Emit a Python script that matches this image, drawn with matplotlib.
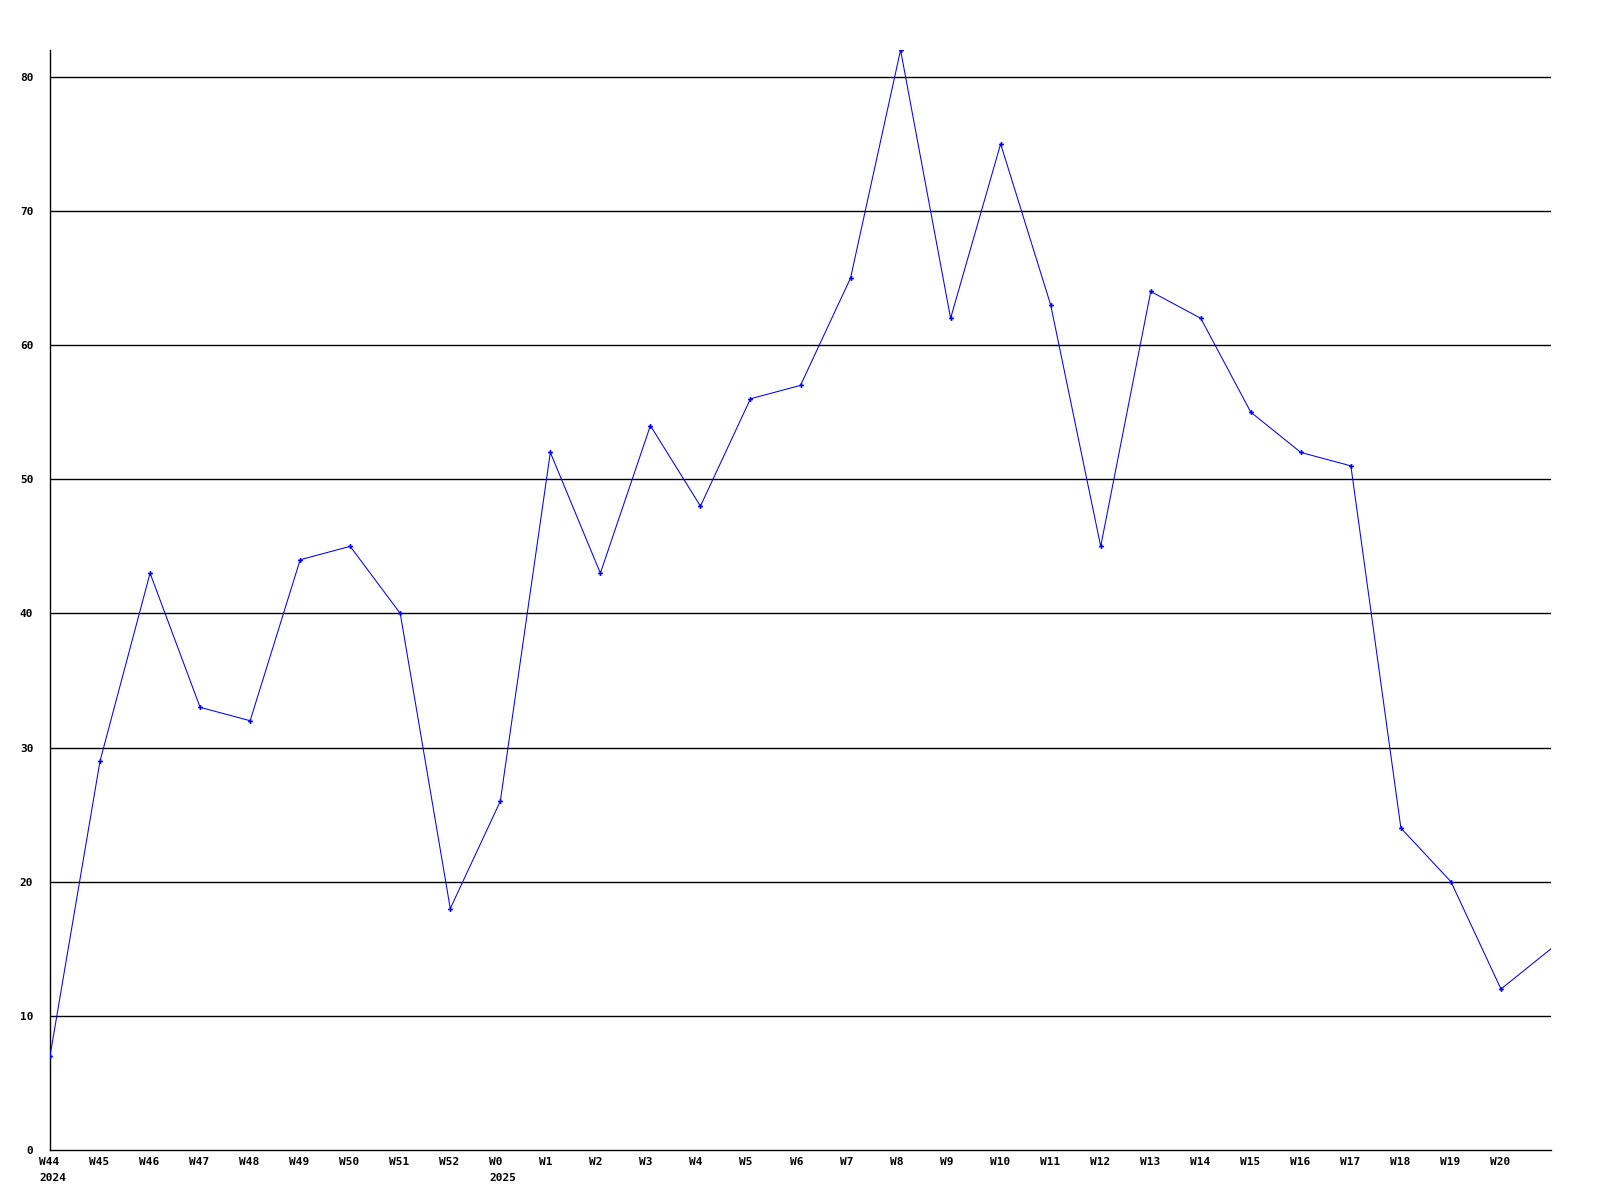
# Courbe hebdomadaire W44 2024 -> W20 2025
import matplotlib
matplotlib.use("Agg")
import matplotlib.pyplot as plt

# semaines (libelles de l'axe x)
weeks = ["W44", "W45", "W46", "W47", "W48", "W49", "W50", "W51", "W52",
         "W0", "W1", "W2", "W3", "W4", "W5", "W6", "W7", "W8", "W9", "W10",
         "W11", "W12", "W13", "W14", "W15", "W16", "W17", "W18", "W19", "W20"]

# annees sous la premiere semaine de chaque annee
years = ["2024", "2025"]
year_pos = [0, 9]

# valeurs (le dernier point sort du cadre a droite)
values = [7, 29, 43, 33, 32, 44, 45, 40, 18, 26, 52, 43, 54, 48, 56, 57, 65,
          82, 62, 75, 63, 45, 64, 62, 55, 52, 51, 24, 20, 12, 15]

yticks = [0, 10, 20, 30, 40, 50, 60, 70, 80]

font = {"family": "DejaVu Sans Mono", "weight": "bold", "size": 8}

fig = plt.figure(figsize=(16, 12), dpi=100)
ax = fig.add_axes([50 / 1600, 50 / 1200, 1501 / 1600, 1100 / 1200])

# lignes horizontales de la grille
for v in yticks[1:]:
    ax.axhline(v, color="black", linewidth=1.0, zorder=1)

x = list(range(len(values)))
ax.plot(x, values, color="#0000ff", linewidth=0.75, zorder=3)
# marqueurs seulement sur les semaines affichees
ax.plot(x[:len(weeks)], values[:len(weeks)], linestyle="none", color="#0000ff",
        marker="P", markersize=3.5, markeredgewidth=0, zorder=4)

ax.set_xlim(0, 30)
ax.set_ylim(0, 82)

ax.set_xticks(range(len(weeks)))
ax.set_xticklabels(weeks, fontdict=font, ha="left")
ax.set_yticks(yticks)
ax.set_yticklabels([str(v) for v in yticks], fontdict=font)

ax.tick_params(axis="both", length=0)
ax.tick_params(axis="y", pad=12)
ax.tick_params(axis="x", pad=5)

# decalage des libelles x vers la gauche (debut du texte ~11 px avant le point)
import matplotlib.transforms as mtrans
shift = mtrans.ScaledTranslation(-11 / 100, 0, fig.dpi_scale_trans)
for lab in ax.get_xticklabels():
    lab.set_transform(lab.get_transform() + shift)

# annee sous le libelle, alignee a gauche avec lui
for yr, p in zip(years, year_pos):
    ax.annotate(yr, xy=(p, 0), xycoords=("data", "axes fraction"),
                xytext=(-8, -16.5), textcoords="offset points",
                ha="left", va="top", **font)

for s in ["top", "right"]:
    ax.spines[s].set_visible(False)
for s in ["left", "bottom"]:
    ax.spines[s].set_color("black")
    ax.spines[s].set_linewidth(1.0)

fig.savefig("out.png", dpi=100)
